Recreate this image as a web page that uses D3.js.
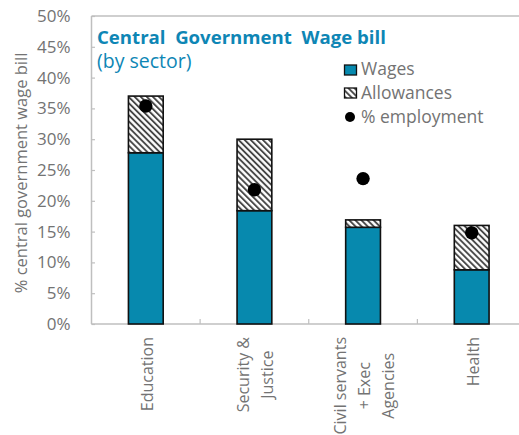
<!DOCTYPE html>
<html>
<head>
<meta charset="utf-8">
<script src="https://cdn.jsdelivr.net/npm/d3@7"></script>
<style>
  html, body { margin: 0; padding: 0; background: #fff; }
  svg { display: block; font-family: "Open Sans", sans-serif; }
</style>
</head>
<body>
<svg id="chart" width="519" height="435"></svg>
<script>
// Central government wage bill by sector (share of total, %)
const categories = ["Education", "Security &\nJustice", "Civil servants\n+ Exec\nAgencies", "Health"];
const wages = [27.8, 18.4, 15.7, 8.8];
const allowances = [9.2, 11.6, 1.2, 7.2];
const employment = [35.4, 21.8, 23.6, 14.8];
const yTicks = [0, 5, 10, 15, 20, 25, 30, 35, 40, 45, 50];
const legendLabels = ["Wages", "Allowances", "% employment"];

const teal = "#0789ae";
const axisGrey = "#bfbfbf";
const textGrey = "#737373";

const svg = d3.select("#chart");
const plot = { left: 91.5, right: 526, top: 16, bottom: 324 };

const defs = svg.append("defs");
defs.append("pattern")
  .attr("id", "hatch")
  .attr("patternUnits", "userSpaceOnUse")
  .attr("width", 4.3).attr("height", 4.3)
  .attr("patternTransform", "rotate(-45)")
  .call(p => {
    p.append("rect").attr("width", 4.3).attr("height", 4.3).attr("fill", "#fff");
    p.append("line").attr("x1", 1).attr("y1", 0).attr("x2", 1).attr("y2", 4.3)
      .attr("stroke", "#3c3c3c").attr("stroke-width", 1.8);
  });

const x = d3.scaleBand()
  .domain(categories)
  .range([plot.left, plot.right])
  .paddingInner(0.68)
  .paddingOuter(0.34);

const y = d3.scaleLinear().domain([0, 50]).range([plot.bottom, plot.top]);

// plot frame: left axis, top edge, category axis
const frame = svg.append("g").attr("stroke", axisGrey).attr("stroke-width", 1.5).attr("fill", "none");
frame.append("line").attr("x1", plot.left).attr("x2", plot.left).attr("y1", plot.top).attr("y2", plot.bottom);
frame.append("line").attr("x1", plot.left).attr("x2", plot.right).attr("y1", plot.top).attr("y2", plot.top);

// y axis
const yAxis = svg.append("g")
  .attr("transform", `translate(${plot.left},0)`)
  .call(d3.axisLeft(y).tickValues(yTicks).tickSize(-3.5).tickPadding(21).tickFormat(d => d + "%"));
yAxis.select(".domain").remove();
yAxis.selectAll(".tick line").attr("stroke", axisGrey).attr("stroke-width", 1.2);
yAxis.selectAll(".tick text")
  .attr("fill", textGrey).attr("font-size", 17)
  .attr("font-family", "Open Sans, sans-serif");

// category axis with boundary ticks
const step = x.step();
const xAxisG = svg.append("g");
xAxisG.append("line")
  .attr("x1", plot.left).attr("x2", plot.right)
  .attr("y1", plot.bottom).attr("y2", plot.bottom)
  .attr("stroke", axisGrey).attr("stroke-width", 1.5);
xAxisG.selectAll("line.bound")
  .data(categories.slice(1))
  .join("line")
  .attr("class", "bound")
  .attr("x1", d => x(d) - x.paddingOuter() * step)
  .attr("x2", d => x(d) - x.paddingOuter() * step)
  .attr("y1", plot.bottom).attr("y2", plot.bottom - 5)
  .attr("stroke", axisGrey).attr("stroke-width", 1.2);

// stacked bars
const bars = svg.append("g");
bars.selectAll("rect.wages")
  .data(categories)
  .join("rect")
  .attr("class", "wages")
  .attr("x", d => x(d))
  .attr("width", x.bandwidth())
  .attr("y", (d, i) => y(wages[i]))
  .attr("height", (d, i) => y(0) - y(wages[i]))
  .attr("fill", teal).attr("stroke", "#111").attr("stroke-width", 1.6);
bars.selectAll("rect.allow")
  .data(categories)
  .join("rect")
  .attr("class", "allow")
  .attr("x", d => x(d))
  .attr("width", x.bandwidth())
  .attr("y", (d, i) => y(wages[i] + allowances[i]))
  .attr("height", (d, i) => y(wages[i]) - y(wages[i] + allowances[i]))
  .attr("fill", "url(#hatch)").attr("stroke", "#111").attr("stroke-width", 1.6);

// employment share markers
svg.append("g").selectAll("circle")
  .data(categories)
  .join("circle")
  .attr("cx", d => x(d) + x.bandwidth() / 2)
  .attr("cy", (d, i) => y(employment[i]))
  .attr("r", 6.7)
  .attr("fill", "#000");

// rotated category labels
const lineH = 24;
const labels = svg.append("g")
  .attr("fill", textGrey).attr("font-size", 16);
categories.forEach(cat => {
  const lines = cat.split("\n");
  const cx = x(cat) + x.bandwidth() / 2;
  const g = labels.append("g");
  const texts = lines.map((ln, i) => g.append("text")
    .attr("text-anchor", "middle")
    .attr("transform", `translate(${cx + (i - (lines.length - 1) / 2) * lineH + 7},0) rotate(-90)`)
    .text(ln));
  const maxLen = d3.max(texts, t => t.node().getComputedTextLength());
  texts.forEach(t => {
    const tr = t.attr("transform").replace(",0)", `,${337 + maxLen / 2})`);
    t.attr("transform", tr);
  });
});

// y axis title
svg.append("text")
  .attr("transform", `translate(27,173) rotate(-90)`)
  .attr("text-anchor", "middle")
  .attr("fill", textGrey).attr("font-size", 16.5)
  .text("% central government wage bill");

// chart title
svg.append("text")
  .attr("x", 97).attr("y", 44)
  .attr("fill", "#0e86b5").attr("font-size", 18.6).attr("font-weight", "bold")
  .style("white-space", "pre")
  .text("Central  Government  Wage bill");
svg.append("text")
  .attr("x", 97).attr("y", 68)
  .attr("fill", "#0e86b5").attr("font-size", 19.5)
  .text("(by sector)");

// legend
const legend = svg.append("g").attr("transform", "translate(344,0)");
const legY = [75, 99, 123];
legend.append("rect").attr("x", 0.5).attr("y", legY[0] - 10).attr("width", 12).attr("height", 10)
  .attr("fill", teal).attr("stroke", "#111").attr("stroke-width", 1.3);
legend.append("rect").attr("x", 0.5).attr("y", legY[1] - 11).attr("width", 12).attr("height", 10)
  .attr("fill", "url(#hatch)").attr("stroke", "#111").attr("stroke-width", 1.3);
legend.append("circle").attr("cx", 6).attr("cy", legY[2] - 6).attr("r", 5).attr("fill", "#000");
legend.selectAll("text.leg")
  .data(legendLabels)
  .join("text")
  .attr("class", "leg")
  .attr("x", 17).attr("y", (d, i) => legY[i])
  .attr("fill", textGrey).attr("font-size", 17.5)
  .text(d => d);
</script>
</body>
</html>
